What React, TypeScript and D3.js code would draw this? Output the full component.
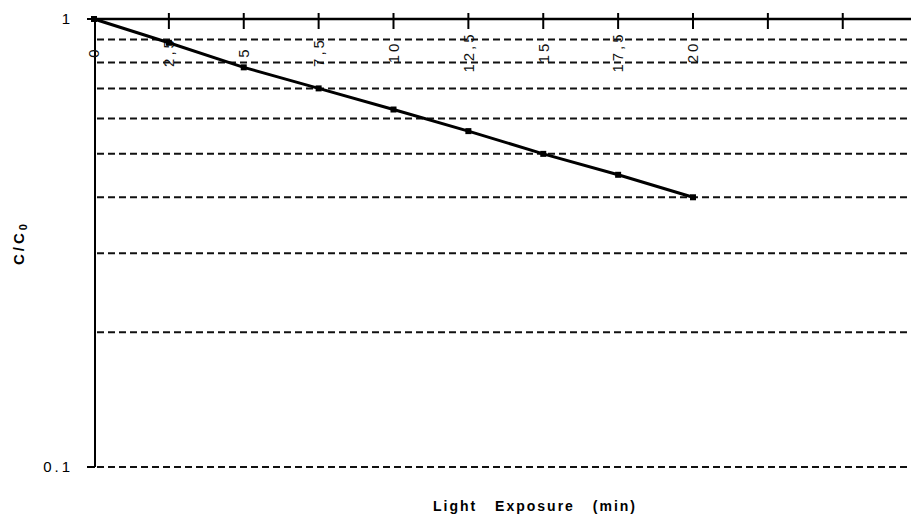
import React, { useEffect, useRef } from "react";
import * as d3 from "d3";

// Light exposure (min) vs relative concentration
const exposure = [0, 2.5, 5, 7.5, 10, 12.5, 15, 17.5, 20];
const ratio = [1, 0.885, 0.78, 0.7, 0.628, 0.562, 0.5, 0.449, 0.4];
const xTicks = [0, 2.5, 5, 7.5, 10, 12.5, 15, 17.5, 20, 22.5, 25];
const xTickLabels = ["0", "2,5", "5", "7,5", "10", "12,5", "15", "17,5", "20", "", ""];
const gridValues = [0.1, 0.2, 0.3, 0.4, 0.5, 0.6, 0.7, 0.8, 0.9];
const yTickValues = [1, 0.1];
const yTickLabels = ["1", "0.1"];

const FONT = "'Liberation Sans', Arial, Helvetica, sans-serif";

const App = () => {
  const svgRef = useRef<SVGSVGElement>(null);

  useEffect(() => {
    const svg = d3.select(svgRef.current);
    svg.selectAll("*").remove();

    const width = 911;
    const height = 528;
    const left = 95;
    const top = 19;
    const bottom = 467;

    // 0 sits on the axis, ~30px per minute
    const x = d3.scaleLinear().domain([0, 27.2]).range([94, 94 + 27.2 * 29.95]);
    const y = d3.scaleLog().domain([0.1, 1]).range([bottom, top]);

    svg.attr("width", width).attr("height", height);

    // dashed horizontal gridlines
    svg
      .append("g")
      .selectAll("line")
      .data(gridValues)
      .enter()
      .append("line")
      .attr("x1", left + 2)
      .attr("x2", width)
      .attr("y1", (d) => y(d))
      .attr("y2", (d) => y(d))
      .attr("stroke", "#111")
      .attr("stroke-width", 2)
      .attr("stroke-dasharray", "7,4");

    // y axis
    svg
      .append("line")
      .attr("x1", left)
      .attr("x2", left)
      .attr("y1", y(1))
      .attr("y2", y(0.1))
      .attr("stroke", "#000")
      .attr("stroke-width", 2);

    svg
      .append("g")
      .selectAll("line")
      .data(yTickValues)
      .enter()
      .append("line")
      .attr("x1", left - 8)
      .attr("x2", left)
      .attr("y1", (d) => y(d))
      .attr("y2", (d) => y(d))
      .attr("stroke", "#000")
      .attr("stroke-width", 2);

    svg
      .append("g")
      .selectAll("text")
      .data(yTickValues)
      .enter()
      .append("text")
      .attr("x", left - 22)
      .attr("y", (d) => y(d))
      .attr("dy", "0.35em")
      .attr("text-anchor", "end")
      .attr("font-family", FONT)
      .attr("font-size", 15)
      .attr("letter-spacing", 3)
      .text((d, i) => yTickLabels[i]);

    // x axis along the top
    svg
      .append("line")
      .attr("x1", left)
      .attr("x2", width)
      .attr("y1", top)
      .attr("y2", top)
      .attr("stroke", "#000")
      .attr("stroke-width", 2.5);

    svg
      .append("g")
      .selectAll("line")
      .data(xTicks.slice(1))
      .enter()
      .append("line")
      .attr("x1", (d) => x(d))
      .attr("x2", (d) => x(d))
      .attr("y1", top - 6)
      .attr("y2", top + 10)
      .attr("stroke", "#000")
      .attr("stroke-width", 2);

    // rotated tick labels
    svg
      .append("g")
      .selectAll("text")
      .data(xTicks)
      .enter()
      .append("text")
      .attr("transform", (d) => `translate(${x(d)},52) rotate(-90)`)
      .attr("dy", "0.35em")
      .attr("text-anchor", "middle")
      .attr("font-family", FONT)
      .attr("font-size", 15)
      .attr("letter-spacing", 3)
      .attr("fill", "#111")
      .text((d, i) => xTickLabels[i]);

    // data line
    const points = exposure.map((e, i) => [e, ratio[i]] as [number, number]);
    const line = d3
      .line<[number, number]>()
      .x((d) => x(d[0]))
      .y((d) => y(d[1]));

    svg
      .append("path")
      .datum(points)
      .attr("d", line)
      .attr("fill", "none")
      .attr("stroke", "#000")
      .attr("stroke-width", 3);

    svg
      .append("g")
      .selectAll("rect")
      .data(points)
      .enter()
      .append("rect")
      .attr("x", (d) => x(d[0]) - 3)
      .attr("y", (d) => y(d[1]) - 3)
      .attr("width", 6)
      .attr("height", 6)
      .attr("fill", "#000");

    // axis titles
    const yTitle = svg
      .append("text")
      .attr("transform", "translate(24,243) rotate(-90)")
      .attr("text-anchor", "middle")
      .attr("font-family", FONT)
      .attr("font-size", 15)
      .attr("font-weight", "bold")
      .attr("letter-spacing", 3);
    yTitle.append("tspan").text("C/C");
    yTitle
      .append("tspan")
      .attr("font-size", 11)
      .attr("dy", 3)
      .text("0");

    svg
      .append("text")
      .attr("x", 535)
      .attr("y", 511)
      .attr("text-anchor", "middle")
      .attr("font-family", FONT)
      .attr("font-size", 14)
      .attr("font-weight", "bold")
      .attr("letter-spacing", 2)
      .attr("word-spacing", 12)
      .text("Light Exposure (min)");
  }, []);

  return (
    <div style={{ position: "absolute", left: 0, top: 0, background: "#fff" }}>
      <svg ref={svgRef}></svg>
    </div>
  );
};

export default App;
